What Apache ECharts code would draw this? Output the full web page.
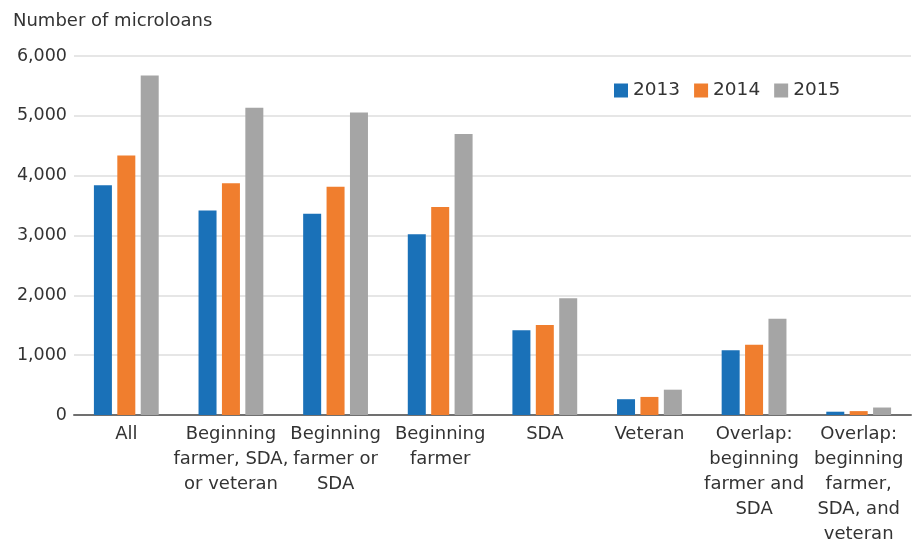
<!DOCTYPE html>
<html>
<head>
<meta charset="utf-8">
<script src="https://cdn.jsdelivr.net/npm/echarts@6/dist/echarts.min.js"></script>
<style>html,body{margin:0;padding:0;background:#fff;overflow:hidden}#c{width:912px;height:547px}</style>
</head>
<body>
<div id="c"></div>
<script>
const categories = [
  'All',
  'Beginning\nfarmer, SDA,\nor veteran',
  'Beginning\nfarmer or\nSDA',
  'Beginning\nfarmer',
  'SDA',
  'Veteran',
  'Overlap:\nbeginning\nfarmer and\nSDA',
  'Overlap:\nbeginning\nfarmer,\nSDA, and\nveteran'
];
const seriesNames = ['2013', '2014', '2015'];
const values2013 = [3840, 3417, 3362, 3022, 1418, 264, 1082, 55];
const values2014 = [4335, 3873, 3813, 3478, 1505, 302, 1176, 65];
const values2015 = [5675, 5137, 5055, 4698, 1950, 423, 1610, 125];
const yTicks = [0, 1000, 2000, 3000, 4000, 5000, 6000];
const colors = ['#1a71b8', '#f07e2e', '#a5a5a5'];

const font = 'DejaVu Sans';
const chart = echarts.init(document.getElementById('c'), null, {renderer: 'canvas', width: 912, height: 547});
const data = [values2013, values2014, values2015];
chart.setOption({
  animation: false,
  title: {
    text: 'Number of microloans',
    left: 13, top: 12,
    padding: 0,
    textStyle: {fontFamily: font, fontSize: 18, fontWeight: 'normal', color: '#333'}
  },
  legend: {
    left: 614, top: 81, padding: 0,
    itemWidth: 14, itemHeight: 14, itemGap: 14,
    icon: 'rect',
    textStyle: {fontFamily: font, fontSize: 18.5, color: '#333', padding: [0, 0, 0, 0]},
    data: seriesNames
  },
  grid: {left: 74, right: 1, top: 56, height: 364, containLabel: false},
  xAxis: {
    type: 'category',
    data: categories,
    axisLine: {lineStyle: {color: '#707070', width: 2}},
    axisTick: {show: false},
    axisLabel: {
      interval: 0, margin: 7,
      fontFamily: font, fontSize: 18, color: '#333', lineHeight: 25, align: 'center'
    }
  },
  yAxis: {
    type: 'value',
    min: yTicks[0], max: yTicks[yTicks.length - 1], interval: 1000,
    axisLine: {show: false},
    axisTick: {show: false},
    splitLine: {lineStyle: {color: '#dedede', width: 1.5}},
    axisLabel: {
      margin: 7, fontFamily: font, fontSize: 17.5, color: '#333',
      formatter: v => v.toLocaleString('en-US')
    }
  },
  series: seriesNames.map((n, i) => ({
    name: n, type: 'bar', data: data[i],
    barWidth: 18, barGap: '30%',
    itemStyle: {color: colors[i]}
  }))
});
</script>
</body>
</html>
